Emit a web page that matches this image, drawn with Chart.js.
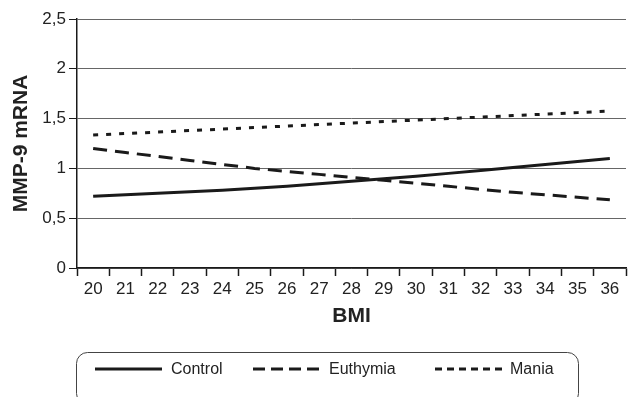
<!DOCTYPE html>
<html>
<head>
<meta charset="utf-8">
<title>MMP-9 mRNA by BMI</title>
<script src="https://cdn.jsdelivr.net/npm/chart.js@4/dist/chart.umd.min.js"></script>
<style>
  body { margin: 0; background: #fff; }
  canvas { display: block; }
</style>
</head>
<body>
<canvas id="bmiChart" width="629" height="397"></canvas>
<script>
// BMI categories on the x axis
const bmiLabels = [20, 21, 22, 23, 24, 25, 26, 27, 28, 29, 30, 31, 32, 33, 34, 35, 36];

// MMP-9 mRNA values, one per BMI category
const controlValues = [0.72, 0.735, 0.75, 0.765, 0.78, 0.80, 0.82, 0.845, 0.87, 0.895, 0.92, 0.95, 0.98, 1.01, 1.04, 1.07, 1.10];
const euthymiaValues = [1.20, 1.16, 1.12, 1.08, 1.04, 1.00, 0.97, 0.94, 0.91, 0.88, 0.85, 0.82, 0.79, 0.76, 0.735, 0.71, 0.685];
const maniaValues = [1.335, 1.35, 1.365, 1.38, 1.395, 1.41, 1.425, 1.44, 1.455, 1.47, 1.485, 1.50, 1.515, 1.53, 1.545, 1.56, 1.575];

// y axis range and step
const yMin = 0;
const yMax = 2.5;
const yStep = 0.5;

const fontFamily = '"Liberation Sans", Arial, Helvetica, sans-serif';
const inkColor = '#1a1a1a';

// draws the rounded legend box under the chart
const boxLegend = {
  id: 'boxLegend',
  afterDraw(chart) {
    const ctx = chart.ctx;
    ctx.save();
    ctx.strokeStyle = '#444';
    ctx.lineWidth = 1;
    ctx.beginPath();
    ctx.roundRect(76.5, 352.5, 502, 52, 11);
    ctx.stroke();

    const slots = [ // sample line start / end and text start for each item
      { x0: 95, x1: 162, tx: 171 },
      { x0: 253, x1: 319, tx: 329 },
      { x0: 435, x1: 502, tx: 510 }
    ];
    const y = 369;
    chart.data.datasets.forEach((ds, i) => {
      const s = slots[i];
      ctx.strokeStyle = ds.borderColor;
      ctx.lineWidth = ds.borderWidth;
      ctx.setLineDash(ds.legendDash || []);
      ctx.beginPath();
      ctx.moveTo(s.x0, y);
      ctx.lineTo(s.x1, y);
      ctx.stroke();
      ctx.setLineDash([]);
      ctx.fillStyle = '#222';
      ctx.font = '16px ' + fontFamily;
      ctx.textBaseline = 'middle';
      ctx.textAlign = 'left';
      ctx.fillText(ds.label, s.tx, y + 1);
    });
    ctx.restore();
  }
};

const chart = new Chart(document.getElementById('bmiChart'), {
  type: 'line',
  data: {
    labels: bmiLabels,
    datasets: [{
      label: 'Control',
      data: controlValues,
      borderColor: inkColor,
      borderWidth: 3,
      pointRadius: 0,
      legendDash: []
    }, {
      label: 'Euthymia',
      data: euthymiaValues,
      borderColor: inkColor,
      borderWidth: 3,
      borderDash: [14, 8],
      pointRadius: 0,
      legendDash: [12, 6]
    }, {
      label: 'Mania',
      data: maniaValues,
      borderColor: inkColor,
      borderWidth: 3,
      borderDash: [5, 8],
      pointRadius: 0,
      legendDash: [7, 5]
    }]
  },
  options: {
    responsive: false,
    animation: false,
    layout: {
      padding: { left: 0, top: 19, right: 3, bottom: 68 }
    },
    plugins: {
      legend: { display: false },
      tooltip: { enabled: false }
    },
    scales: {
      x: {
        offset: true,
        grid: {
          offset: true,
          drawOnChartArea: false,
          tickLength: 8,
          tickColor: inkColor,
          tickWidth: 1.5
        },
        border: { color: inkColor, width: 1.5 },
        ticks: {
          color: '#222',
          padding: 3,
          maxRotation: 0,
          autoSkip: false,
          font: { family: fontFamily, size: 17 }
        },
        title: {
          display: true,
          text: 'BMI',
          color: '#222',
          padding: { top: 4, bottom: 0 },
          font: { family: fontFamily, size: 21, weight: 'bold' }
        },
        afterFit(scale) { scale.height = 61; }
      },
      y: {
        min: yMin,
        max: yMax,
        grid: {
          color: '#666',
          lineWidth: 1,
          tickLength: 8,
          tickColor: inkColor
        },
        border: { color: inkColor, width: 1.5 },
        ticks: {
          stepSize: yStep,
          color: '#222',
          padding: 3,
          font: { family: fontFamily, size: 17 },
          callback: (value) => value.toString().replace('.', ',') // comma decimals
        },
        title: {
          display: true,
          text: 'MMP-9 mRNA',
          color: '#222',
          padding: { top: 9, bottom: 0 },
          font: { family: fontFamily, size: 21, weight: 'bold' }
        },
        afterFit(scale) { scale.width = 77; }
      }
    }
  },
  plugins: [boxLegend]
});
</script>
</body>
</html>
